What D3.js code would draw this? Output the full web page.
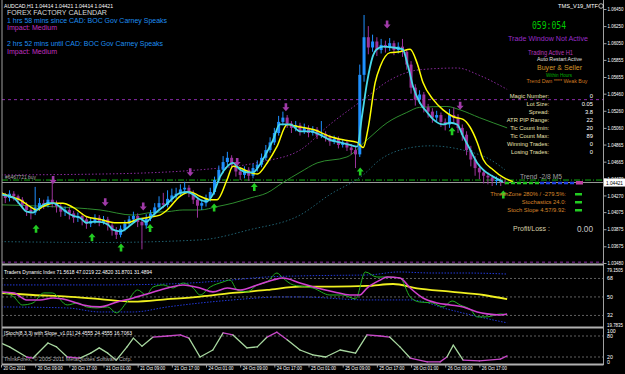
<!DOCTYPE html>
<html>
<head>
<meta charset="utf-8">
<script src="https://cdn.jsdelivr.net/npm/d3@7"></script>
<style>
body { margin: 0; background: #000; }
svg { display: block; font-family: "Liberation Sans", Arial, sans-serif; }
</style>
</head>
<body>
<script>
const w = 625;
const h = 374;

// AUDCAD H1 candles, bar 0 = 20 Oct 01:00
const opens = [
1.0431,1.0427,1.0424,1.0429,1.0426,1.0422,1.0416,1.0410,1.0407,1.0413,
1.0418,1.0416,1.0422,1.0417,1.0414,1.0408,1.0410,1.0406,1.0401,1.0403,
1.0399,1.0394,1.0397,1.0401,1.0396,1.0399,1.0392,1.0386,1.0381,1.0388,
1.0394,1.0399,1.0403,1.0396,1.0392,1.0400,1.0406,1.0413,1.0418,1.0416,
1.0423,1.0427,1.0429,1.0434,1.0436,1.0430,1.0422,1.0415,1.0418,1.0424,
1.0431,1.0445,1.0457,1.0466,1.0471,1.0463,1.0455,1.0451,1.0457,1.0450,
1.0459,1.0463,1.0471,1.0480,1.0489,1.0500,1.0513,1.0518,1.0511,1.0506,
1.0509,1.0502,1.0506,1.0500,1.0504,1.0497,1.0499,1.0495,1.0490,1.0493,
1.0486,1.0489,1.0483,1.0480,1.0475,1.0568,1.0612,1.0600,1.0607,1.0597,
1.0603,1.0600,1.0605,1.0597,1.0601,1.0595,1.0580,1.0553,1.0539,1.0545,
1.0530,1.0525,1.0518,1.0521,1.0513,1.0510,1.0521,1.0518,1.0506,1.0498,
1.0480,1.0469,1.0459,1.0454,1.0450,1.0448,1.0444,1.0445,1.0443];
const highs = [
1.0436,1.0430,1.0433,1.0432,1.0428,1.0425,1.0419,1.0414,1.0437,1.0424,
1.0422,1.0426,1.0445,1.0421,1.0418,1.0414,1.0413,1.0409,1.0407,1.0406,
1.0402,1.0401,1.0405,1.0404,1.0403,1.0402,1.0395,1.0390,1.0392,1.0398,
1.0403,1.0408,1.0406,1.0400,1.0405,1.0410,1.0418,1.0426,1.0430,1.0433,
1.0435,1.0436,1.0440,1.0443,1.0439,1.0433,1.0425,1.0422,1.0428,1.0436,
1.0449,1.0462,1.0473,1.0478,1.0474,1.0466,1.0460,1.0461,1.0460,1.0464,
1.0468,1.0476,1.0486,1.0495,1.0506,1.0520,1.0525,1.0521,1.0514,1.0514,
1.0512,1.0511,1.0509,1.0508,1.0507,1.0514,1.0502,1.0498,1.0497,1.0496,
1.0493,1.0492,1.0487,1.0484,1.0580,1.0638,1.0625,1.0615,1.0612,1.0610,
1.0608,1.0611,1.0608,1.0606,1.0610,1.0598,1.0584,1.0557,1.0550,1.0548,
1.0534,1.0529,1.0526,1.0524,1.0517,1.0528,1.0530,1.0522,1.0510,1.0502,
1.0485,1.0473,1.0463,1.0458,1.0454,1.0451,1.0449,1.0448,1.0446];
const lows = [
1.0422,1.0418,1.0420,1.0421,1.0417,1.0411,1.0403,1.0399,1.0404,1.0409,
1.0411,1.0413,1.0413,1.0407,1.0402,1.0403,1.0399,1.0395,1.0396,1.0392,
1.0388,1.0390,1.0394,1.0391,1.0393,1.0386,1.0380,1.0376,1.0378,1.0385,
1.0391,1.0396,1.0390,1.0364,1.0388,1.0397,1.0403,1.0410,1.0412,1.0413,
1.0419,1.0423,1.0426,1.0430,1.0425,1.0417,1.0401,1.0410,1.0414,1.0420,
1.0428,1.0442,1.0453,1.0462,1.0458,1.0449,1.0445,1.0447,1.0444,1.0447,
1.0455,1.0460,1.0468,1.0477,1.0486,1.0497,1.0509,1.0506,1.0500,1.0502,
1.0497,1.0499,1.0495,1.0497,1.0493,1.0494,1.0490,1.0485,1.0487,1.0482,
1.0483,1.0479,1.0475,1.0459,1.0472,1.0560,1.0592,1.0595,1.0590,1.0593,
1.0594,1.0596,1.0591,1.0593,1.0589,1.0574,1.0546,1.0532,1.0534,1.0524,
1.0518,1.0512,1.0514,1.0507,1.0503,1.0506,1.0512,1.0500,1.0491,1.0474,
1.0461,1.0450,1.0446,1.0441,1.0440,1.0438,1.0439,1.0438,1.0440];
const closes = [
1.0427,1.0424,1.0429,1.0426,1.0422,1.0416,1.0410,1.0407,1.0413,1.0418,
1.0416,1.0422,1.0417,1.0414,1.0408,1.0410,1.0406,1.0401,1.0403,1.0399,
1.0394,1.0397,1.0401,1.0396,1.0399,1.0392,1.0386,1.0381,1.0388,1.0394,
1.0399,1.0403,1.0396,1.0392,1.0400,1.0406,1.0413,1.0418,1.0416,1.0423,
1.0427,1.0429,1.0434,1.0436,1.0430,1.0422,1.0415,1.0418,1.0424,1.0431,
1.0445,1.0457,1.0466,1.0471,1.0463,1.0455,1.0451,1.0457,1.0450,1.0459,
1.0463,1.0471,1.0480,1.0489,1.0500,1.0513,1.0518,1.0511,1.0506,1.0509,
1.0502,1.0506,1.0500,1.0504,1.0497,1.0499,1.0495,1.0490,1.0493,1.0486,
1.0489,1.0483,1.0480,1.0475,1.0568,1.0612,1.0600,1.0607,1.0597,1.0603,
1.0600,1.0605,1.0597,1.0601,1.0595,1.0580,1.0553,1.0539,1.0545,1.0530,
1.0525,1.0518,1.0521,1.0513,1.0510,1.0521,1.0518,1.0506,1.0498,1.0480,
1.0469,1.0459,1.0454,1.0450,1.0448,1.0444,1.0445,1.0443,1.04421];

// moving averages / envelopes: [bar, price]
const fastMa = [[0,1.0428],[3,1.0424],[4.5,1.0416],[6,1.0408],[7.5,1.0407],[9,1.0413],[11,1.0418],[12.2,1.0418],[14,1.0413],[15.5,1.0407],
[17,1.0403],[18.5,1.0401],[20,1.0395],[21.5,1.0396],[23,1.0396],[25,1.0393],[26.2,1.0387],[28,1.0385],[29.5,1.0389],[31,1.0395],
[32.5,1.0400],[34,1.0396],[35.6,1.0404],[37,1.0410],[39,1.0418],[40.3,1.0424],[42,1.0430],[43.6,1.0431],[45,1.0428],[46.6,1.0422],
[48.2,1.0420],[49.6,1.0428],[51.3,1.0449],[53,1.0461],[54.3,1.0465],[56,1.0457],[57.6,1.0454],[59,1.0454],[60.6,1.0463],[62.3,1.0478],
[63.7,1.0492],[65.3,1.0510],[67.7,1.0510],[70,1.0502],[72.4,1.0502],[74.7,1.0498],[77,1.0492],[79.4,1.0489],[81.7,1.0486],[83.4,1.0484],
[84.5,1.0519],[85.7,1.0559],[87,1.0589],[88,1.0598],[89.5,1.0601],[91.8,1.0600],[94,1.0598],[95.3,1.0578],[96.5,1.0554],[98,1.0536],
[99.8,1.0524],[101.2,1.0516],[103.5,1.0510],[105.2,1.0512],[106.8,1.0510],[108.2,1.0496],[109.8,1.0481],[111.5,1.0465],[112.9,1.0457],[115.2,1.0449],
[117.5,1.0443]];
const slowMa = [[0,1.0430],[2.1,1.0426],[4.4,1.0422],[6.8,1.0414],[8.4,1.0410],[9.8,1.0414],[12.2,1.0418],[14.5,1.0418],[16.9,1.0413],[20.1,1.0402],
[23.2,1.0399],[25.5,1.0396],[27.2,1.0395],[29.5,1.0395],[31.9,1.0399],[34.2,1.0401],[37.2,1.0404],[38.9,1.0410],[41.9,1.0426],[44.3,1.0431],
[46.6,1.0426],[48.9,1.0422],[50.6,1.0422],[52.9,1.0445],[54.3,1.0461],[56,1.0459],[58.3,1.0454],[60,1.0452],[62.3,1.0465],[64.6,1.0484],
[67,1.0510],[70,1.0507],[73.1,1.0504],[77,1.0496],[80.1,1.0492],[83.4,1.0489],[84.8,1.0483],[86,1.0507],[87.6,1.0559],[88.8,1.0578],
[91.1,1.0594],[93.4,1.0595],[95.8,1.0598],[97.4,1.0582],[98.8,1.0559],[101.2,1.0539],[103.5,1.0527],[105.9,1.0519],[108.2,1.0516],[109.8,1.0507],
[111.5,1.0489],[112.9,1.0469],[115.2,1.0457],[117.6,1.0448],[119.9,1.0443]];
const longMa = [[0,1.0416],[11.5,1.0414],[23.2,1.0410],[31,1.0404],[35,1.0407],[39,1.0408],[42.6,1.0410],[46.6,1.0410],[50.6,1.0414],[54.3,1.0418],
[58.3,1.0424],[62.3,1.0430],[66,1.0442],[70,1.0454],[74,1.0465],[81,1.0472],[85.7,1.0492],[90.4,1.0512],[95,1.0524],[98,1.0530],
[104.4,1.0531],[107.5,1.0527],[112,1.0518],[118.5,1.0506]];
const upperBand = [[0,1.0451],[23.2,1.0452],[46.6,1.0457],[60.6,1.0466],[70,1.0480],[77,1.0510],[84.8,1.0539],[91.1,1.0562],[98.1,1.0574],[106.8,1.0576],
[112.2,1.0567],[118.5,1.0551]];
const lowerBand = [[0,1.0373],[23.2,1.0372],[46.6,1.0375],[58.3,1.0387],[70,1.0404],[77,1.0428],[84.8,1.0451],[88.8,1.0469],[93.4,1.0480],[100.5,1.0485],
[108.2,1.0480],[114.5,1.0469],[118,1.0457]];

// signal arrows [bar, price]
const buyArrows = [[8.2,1.0388],[21.3,1.0378],[28.1,1.0366],[34.9,1.0389],[49.9,1.0413],[59.3,1.0437],[84.1,1.0455],[105.6,1.0502],[117.6,1.0428]];
const sellArrows = [[12.2,1.0445],[24.4,1.0419],[33.3,1.0414],[44.3,1.0454],[55.3,1.0466],[66.7,1.0530],[90.4,1.0627],[107.5,1.0532]];

const purpleLevels = [1.0539, 1.0349];
const trendLevel = 1.0445;
const bid = 1.04421;

const priceTicks = [1.06450,1.06250,1.06050,1.05855,1.05655,1.05460,1.05260,1.05060,1.04865,1.04665,1.04470,1.04270,1.04075,1.03875,1.03675,1.03480];

// Traders Dynamic Index [bar, value]
const tdiRsi = [[0,54.9],[3,50],[5,42.2],[7.5,44.2],[10,53.9],[12,53.9],[15.5,42.2],[18,44.2],[20,40.3],[22.5,39.3],[25,40.3],[27,34.5],[29.5,45.1],
[32,56.8],[34,51.9],[35.6,59.7],[38,61.7],[40.3,58.7],[42.6,63.6],[45,58.7],[46.6,51.9],[49,59.7],[52,64.6],[53.6,66.5],[55.3,56.8],
[57.6,54.9],[60,61.7],[62.3,64.6],[64.6,73.3],[66,68.4],[68.4,61.7],[71.7,59.7],[73,58.7],[77,51.9],[80,51.9],[83,48.1],[85.3,74.3],
[88,69.4],[91,69.4],[93.4,68.4],[95.8,50],[98,45.1],[101,44.2],[103.5,40.3],[105.6,46.1],[107.5,42.2],[110,37.4],[111.5,30.6],
[113.8,30.6],[116.9,33.5],[118.5,32.5]];
const tdiSignal = [[0,54.9],[3,53.9],[6,47.1],[9.1,47.1],[12.2,49],[15.5,47.1],[19.2,42.2],[23.2,40.3],[27.2,45.1],[31,49],[35,53.9],[39,58.7],
[42.6,61.7],[46.6,58.7],[49.6,54.9],[53,58.7],[56,56.8],[60,61.7],[63.7,66.5],[66,68.4],[70,63.6],[74,58.7],[78,54.9],[81.7,51.9],
[84,51.9],[85.7,58.7],[88.8,66.5],[90.4,69.4],[93.4,68.4],[95.8,58.7],[98.8,49],[102.1,44.2],[105.2,42.2],[108.2,40.3],[111.5,35.4],
[113.8,33.5],[116.9,32.5],[118.5,33.5]];
const tdiBase = [[0,53.9],[7.5,51.9],[15.5,50.3],[23.2,47.8],[31,45.4],[39,47.8],[46.6,50.3],[54.3,53.9],[62.3,56.8],[70,60],[77.8,60],[85.7,60.7],
[91.8,62.6],[97.4,58.4],[105.2,55.2],[113,51.9],[118.5,47.8]];
const tdiUpper = [[0,61.7],[23,61.7],[39,62.6],[54,66.5],[62,69.4],[70,70.5],[78,71],[86,71.4],[93,74.3],[101,73.3],[109,73.3],[118.5,72.3]];
const tdiLower = [[0,40.3],[15.5,39.3],[23.2,35.4],[31,35.4],[39,40.3],[54.3,47.1],[66,50],[70,50],[85.7,47.1],[95.8,47.1],[105.2,37.4],[113,29.6],[118.5,24.8]];
const tdiLevels = [68, 50, 32];
const tdiTicks = [79.1505, 68, 50, 32, 19.7835];

// Stochastic [bar, value]
const stoch = [[0,60],[2,49],[6,20],[7.5,17],[11,60],[13,49],[15.5,20],[18.5,17],[21,31],[23,46],[25,31],[27,11],[29.5,49],[31,74],[33,51],
[35.6,77],[39,80],[42,83],[44,74],[46.6,20],[49.6,40],[52,89],[54.3,83],[57.6,46],[60,49],[62.3,77],[64.6,91],[67,69],[70,40],[73,26],
[76,20],[79.4,40],[83,31],[85.7,83],[88.8,80],[91,77],[93.4,49],[95.8,17],[99.8,6],[102.8,6],[104.4,20],[105.9,54],[108.2,11],[112,9],
[116.9,14],[118.5,23]];
const stochLevels = [80, 20];
const stochTicks = [100, 80, 20, 0];

const timeTicks = [0,8,16,24,32,40,48,56,64,72,80,88,96,104,112];
const timeLabels = ["20 Oct 2011","20 Oct 09:00","20 Oct 17:00","21 Oct 01:00","21 Oct 09:00","21 Oct 17:00","24 Oct 01:00",
"24 Oct 09:00","24 Oct 17:00","25 Oct 01:00","25 Oct 09:00","25 Oct 17:00","26 Oct 01:00","26 Oct 09:00","26 Oct 17:00"];

const infoLabels = ["Magic Number:","Lot Size:","Spread:","ATR PIP Range:","Tic Count Imin:","Tic Count Max:","Winning Trades:","Losing Trades:"];
const infoValues = ["0","0.05","3.8","22","20","89","0","0"];
const filterLabels = ["ThreshZone 280% / -279.5%:","Stochastics 24.0:","Stoch Slope 4.57/9.92:"];

//scales
let x = d3.scaleLinear().domain([0, 118]).range([1, 505]);
let y = d3.scaleLinear().domain([1.0348, 1.0645]).range([263, 9]);
let yTdi = d3.scaleLinear().domain([19.7835, 79.1505]).range([328, 267]);
let ySto = d3.scaleLinear().domain([0, 100]).range([364, 329]);

let svg = d3.select("body")
            .append("svg")
                .attr("width", w)
                .attr("height", h);

svg.append("rect").attr("width", w).attr("height", h).attr("fill", "#000");

let defs = svg.append("defs");
defs.append("clipPath").attr("id", "clipMain")
    .append("rect").attr("x", 2).attr("y", 2).attr("width", 601).attr("height", 261);
defs.append("clipPath").attr("id", "clipTdi")
    .append("rect").attr("x", 2).attr("y", 266).attr("width", 601).attr("height", 61);
defs.append("clipPath").attr("id", "clipSto")
    .append("rect").attr("x", 2).attr("y", 328).attr("width", 601).attr("height", 36);

function addText(g, tx, ty, str, size, color, anchor, len) {
    let t = g.append("text")
        .attr("x", tx)
        .attr("y", ty)
        .attr("font-size", size)
        .attr("fill", color)
        .attr("text-anchor", anchor || "start")
        .text(str);
    if (len) t.attr("textLength", len).attr("lengthAdjust", "spacingAndGlyphs");
    return t;
}

let main = svg.append("g").attr("clip-path", "url(#clipMain)");

// horizontal levels
main.selectAll(".plevel")
    .data(purpleLevels)
    .enter()
    .append("line")
    .attr("x1", 2).attr("x2", 603)
    .attr("y1", d => y(d)).attr("y2", d => y(d))
    .attr("stroke", "#8a2aa8")
    .attr("stroke-dasharray", "3,3");

main.append("line")
    .attr("x1", 2).attr("x2", 603)
    .attr("y1", y(trendLevel)).attr("y2", y(trendLevel))
    .attr("stroke", "#10b010")
    .attr("stroke-dasharray", "6,2,1,2");

main.append("line")
    .attr("x1", 2).attr("x2", 603)
    .attr("y1", y(bid)).attr("y2", y(bid))
    .attr("stroke", "#9a9a9a");

function priceLine(data) {
    return d3.line()
        .x(d => x(d[0]))
        .y(d => y(d[1]))
        .curve(d3.curveMonotoneX)(data);
}

main.append("path").attr("d", priceLine(upperBand))
    .attr("fill", "none").attr("stroke", "#8a2a9e").attr("stroke-dasharray", "1.5,2");
main.append("path").attr("d", priceLine(lowerBand))
    .attr("fill", "none").attr("stroke", "#1f6070").attr("stroke-dasharray", "1.5,2");
main.append("path").attr("d", priceLine(longMa))
    .attr("fill", "none").attr("stroke", "#2e8b2e").attr("stroke-width", 1);

// candles
let candles = main.selectAll(".candle")
    .data(closes)
    .enter()
    .append("g");

candles.append("line")
    .attr("x1", (d, i) => x(i)).attr("x2", (d, i) => x(i))
    .attr("y1", (d, i) => y(highs[i]))
    .attr("y2", (d, i) => y(lows[i]))
    .attr("stroke", (d, i) => d >= opens[i] ? "#1e90ff" : "#9b339b");

candles.append("rect")
    .attr("x", (d, i) => x(i) - 1.5)
    .attr("width", 3)
    .attr("y", (d, i) => y(Math.max(d, opens[i])))
    .attr("height", (d, i) => Math.max(1, Math.abs(y(d) - y(opens[i]))))
    .attr("fill", (d, i) => d >= opens[i] ? "#1e90ff" : "#9b339b");

main.append("path").attr("d", priceLine(slowMa))
    .attr("fill", "none").attr("stroke", "#ffff00").attr("stroke-width", 1.5);
main.append("path").attr("d", priceLine(fastMa))
    .attr("fill", "none").attr("stroke", "#48d8e8").attr("stroke-width", 1.8);

// arrows
function arrowPath(cx, cy, dir) {
    let s = dir;
    return "M" + cx + "," + (cy - 4 * s) +
        "L" + (cx + 3.5) + "," + cy +
        "L" + (cx + 1.3) + "," + cy +
        "L" + (cx + 1.3) + "," + (cy + 4 * s) +
        "L" + (cx - 1.3) + "," + (cy + 4 * s) +
        "L" + (cx - 1.3) + "," + cy +
        "L" + (cx - 3.5) + "," + cy + "Z";
}
main.selectAll(".buy")
    .data(buyArrows)
    .enter()
    .append("path")
    .attr("d", d => arrowPath(x(d[0]), y(d[1]), 1))
    .attr("fill", "#22cc22");
main.selectAll(".sell")
    .data(sellArrows)
    .enter()
    .append("path")
    .attr("d", d => arrowPath(x(d[0]), y(d[1]), -1))
    .attr("fill", "#a03aa8");

// trend markers at bid
main.append("line")
    .attr("x1", 505).attr("x2", 540)
    .attr("y1", y(bid) + 0.5).attr("y2", y(bid) + 0.5)
    .attr("stroke", "#20c020").attr("stroke-width", 2.5).attr("stroke-dasharray", "4,2");
main.append("line")
    .attr("x1", 540).attr("x2", 575)
    .attr("y1", y(bid) + 0.5).attr("y2", y(bid) + 0.5)
    .attr("stroke", "#2040e0").attr("stroke-width", 2.5).attr("stroke-dasharray", "4,2");
main.append("rect")
    .attr("x", 576).attr("y", y(bid) - 1.5).attr("width", 7).attr("height", 3.5)
    .attr("fill", "#c040a0");

// TDI panel
let tdi = svg.append("g").attr("clip-path", "url(#clipTdi)");
tdi.selectAll(".lvl")
    .data(tdiLevels)
    .enter()
    .append("line")
    .attr("x1", 2).attr("x2", 603)
    .attr("y1", d => yTdi(d)).attr("y2", d => yTdi(d))
    .attr("stroke", "#8a8a8a").attr("stroke-width", 0.7).attr("stroke-dasharray", "2,2");

function tdiLine(data) {
    return d3.line()
        .x(d => x(d[0]))
        .y(d => yTdi(d[1]))
        .curve(d3.curveMonotoneX)(data);
}
tdi.append("path").attr("d", tdiLine(tdiUpper))
    .attr("fill", "none").attr("stroke", "#2238d8").attr("stroke-dasharray", "1.5,1.5");
tdi.append("path").attr("d", tdiLine(tdiLower))
    .attr("fill", "none").attr("stroke", "#2238d8").attr("stroke-dasharray", "1.5,1.5");
tdi.append("path").attr("d", tdiLine(tdiBase))
    .attr("fill", "none").attr("stroke", "#f0f020").attr("stroke-width", 1.8);
tdi.append("path").attr("d", tdiLine(tdiRsi))
    .attr("fill", "none").attr("stroke", "#22b022").attr("stroke-width", 1);
tdi.append("path").attr("d", tdiLine(tdiSignal))
    .attr("fill", "none").attr("stroke", "#d040d0").attr("stroke-width", 1.6);

// Stochastic panel
let sto = svg.append("g").attr("clip-path", "url(#clipSto)");
sto.selectAll(".lvl")
    .data(stochLevels)
    .enter()
    .append("line")
    .attr("x1", 2).attr("x2", 603)
    .attr("y1", d => ySto(d)).attr("y2", d => ySto(d))
    .attr("stroke", "#8a8a8a").attr("stroke-width", 0.7).attr("stroke-dasharray", "2,2");

let stoPairs = d3.pairs(stoch);
sto.selectAll(".seg")
    .data(stoPairs)
    .enter()
    .append("line")
    .attr("x1", d => x(d[0][0])).attr("y1", d => ySto(d[0][1]))
    .attr("x2", d => x(d[1][0])).attr("y2", d => ySto(d[1][1]))
    .attr("stroke-linecap", "round")
    .attr("stroke-width", 1.3)
    .attr("stroke", d => {
        let m = (d[0][1] + d[1][1]) / 2;
        return (m >= 78 || m <= 20) ? "#c848c8" : "#a8d8a0";
    });

// frame
svg.append("line").attr("x1", 2).attr("x2", 2).attr("y1", 0).attr("y2", 364)
    .attr("stroke", "#a0a0a0");
svg.append("line").attr("x1", 603.5).attr("x2", 603.5).attr("y1", 0).attr("y2", 365)
    .attr("stroke", "#a0a0a0");
svg.selectAll(".sep")
    .data([264.5, 327.5, 364.5])
    .enter()
    .append("line")
    .attr("x1", 2).attr("x2", 603.5)
    .attr("y1", d => d).attr("y2", d => d)
    .attr("stroke", "#b0b0b0").attr("stroke-width", 2);

// right price axis
let yAxis = svg.append("g")
    .attr("transform", "translate(603.5,0)")
    .call(d3.axisRight(y).tickValues(priceTicks).tickSize(3).tickFormat(d3.format(".5f")));
yAxis.select(".domain").remove();
yAxis.selectAll("line").attr("stroke", "#a0a0a0");
yAxis.selectAll("text").attr("fill", "#fff").attr("font-size", 5.2).attr("x", 4)
    .attr("textLength", 16).attr("lengthAdjust", "spacingAndGlyphs")
    .attr("font-family", "Liberation Sans, Arial, sans-serif");

svg.append("rect")
    .attr("x", 604).attr("y", y(bid) - 4).attr("width", 21).attr("height", 8)
    .attr("fill", "#fff");
addText(svg, 606, y(bid) + 2, d3.format(".5f")(bid), 5.2, "#000", "start", 17);

// indicator axes
svg.selectAll(".tdiTick")
    .data(tdiTicks)
    .enter()
    .append("text")
    .attr("x", 607)
    .attr("y", (d, i) => yTdi(d) + (i === 0 ? 5 : i === tdiTicks.length - 1 ? -1.5 : 2))
    .attr("font-size", 5.2)
    .attr("fill", "#fff")
    .text(d => d % 1 === 0 ? d : d3.format(".4f")(d))
    .each(function(d) {
        if (d % 1 !== 0) d3.select(this).attr("textLength", 16).attr("lengthAdjust", "spacingAndGlyphs");
    });
svg.selectAll(".stoTick")
    .data(stochTicks)
    .enter()
    .append("text")
    .attr("x", 607)
    .attr("y", (d, i) => ySto(d) + (i === 0 ? 4 : i === stochTicks.length - 1 ? -0.5 : 1.5))
    .attr("font-size", 5.2)
    .attr("fill", "#fff")
    .text(d => d);

// time axis
let xAxis = svg.append("g")
    .attr("transform", "translate(0,364.5)")
    .call(d3.axisBottom(x).tickValues(timeTicks).tickSize(3).tickFormat((d, i) => timeLabels[i]));
xAxis.select(".domain").remove();
xAxis.selectAll("line").attr("stroke", "#a0a0a0");
xAxis.selectAll("text")
    .attr("fill", "#fff").attr("font-size", 5.4).attr("text-anchor", "start")
    .attr("x", 2).attr("y", 2)
    .attr("textLength", (d, i) => i === 0 ? 22 : 25)
    .attr("lengthAdjust", "spacingAndGlyphs")
    .attr("font-family", "Liberation Sans, Arial, sans-serif");

// texts, top left
addText(svg, 4, 8, "AUDCAD,H1  1.04414 1.04421 1.04414 1.04421", 5.5, "#fff", "start", 109);
addText(svg, 7, 15, "FOREX FACTORY CALENDAR", 7, "#d8d8d8", "start", 100);
addText(svg, 7, 22.5, "1 hrs 58 mins since CAD: BOC Gov Carney Speaks", 7, "#1e8ff0", "start", 160);
addText(svg, 7, 29.5, "Impact: Medium", 7, "#c030c0", "start", 50);
addText(svg, 7, 46, "2 hrs 52 mins until CAD: BOC Gov Carney Speaks", 7, "#1e8ff0", "start", 156);
addText(svg, 7, 53.5, "Impact: Medium", 7, "#c030c0", "start", 50);
addText(svg, 5, 179, "#6467721 buy", 5.5, "#a8a8a8", "start", 31);

// texts, top right
addText(svg, 558, 8, "TMS_V19_MTF", 5.5, "#fff", "start", 40);
svg.append("circle").attr("cx", 601).attr("cy", 6).attr("r", 2.3)
    .attr("fill", "none").attr("stroke", "#fff").attr("stroke-width", 0.7);
addText(svg, 549, 28.5, "059:054", 10, "#00cc00", "middle", 34).attr("font-family", "DejaVu Sans Mono, monospace");
addText(svg, 548, 41, "Trade Window Not Active", 8, "#9a2cc8", "middle", 80);
addText(svg, 550.5, 54.5, "Trading Active H1", 8, "#b838b8", "middle", 45);
addText(svg, 559.5, 61, "Auto Restart Active", 5.5, "#e0e0e0", "middle", 45);
addText(svg, 559.5, 70, "Buyer & Seller", 8, "#d4962a", "middle", 45);
addText(svg, 559, 77, "Within Hours", 5.5, "#00b000", "middle", 26);
addText(svg, 557, 83, "Trend Dwn **** Weak Buy", 5.5, "#d07a20", "middle", 61);

svg.selectAll(".infoL")
    .data(infoLabels)
    .enter()
    .append("text")
    .attr("x", 549).attr("y", (d, i) => 98 + i * 8)
    .attr("text-anchor", "end").attr("font-size", 5.8).attr("fill", "#e8e0b0")
    .text(d => d);
svg.selectAll(".infoV")
    .data(infoValues)
    .enter()
    .append("text")
    .attr("x", 593).attr("y", (d, i) => 98 + i * 8)
    .attr("text-anchor", "end").attr("font-size", 5.8).attr("fill", "#fff")
    .text(d => d);

addText(svg, 520, 178.5, "Trend -2/8 M5", 7.5, "#a0a0a0", "start", 42);

svg.selectAll(".filt")
    .data(filterLabels)
    .enter()
    .append("text")
    .attr("x", 566).attr("y", (d, i) => 196 + i * 8)
    .attr("text-anchor", "end").attr("font-size", 5.8).attr("fill", "#d8862a")
    .text(d => d);
svg.selectAll(".filtOk")
    .data(filterLabels)
    .enter()
    .append("rect")
    .attr("x", 575).attr("y", (d, i) => 193 + i * 8)
    .attr("width", 7).attr("height", 2.5)
    .attr("fill", "#22cc22");

addText(svg, 513, 230.5, "Profit/Loss :", 7, "#d8d0a8", "start", 37);
addText(svg, 593, 231.5, "0.00", 9.5, "#c8c8c8", "end", 16);

// indicator titles
addText(svg, 4, 274, "Traders Dynamic Index 71.5618 47.0219 22.4820 31.8701 31.4894", 5.5, "#fff", "start", 148);
addText(svg, 4, 335, "[Stoch(8,3,3) with Slope_v1.01] 24.4555 24.4555 16.7063", 5.5, "#fff", "start", 128);
addText(svg, 4, 361, "ThinkForex, \u00a9 2005-2011 MetaQuotes Software Corp.", 5.5, "#b0b0b0", "start", 128);
</script>
</body>
</html>
